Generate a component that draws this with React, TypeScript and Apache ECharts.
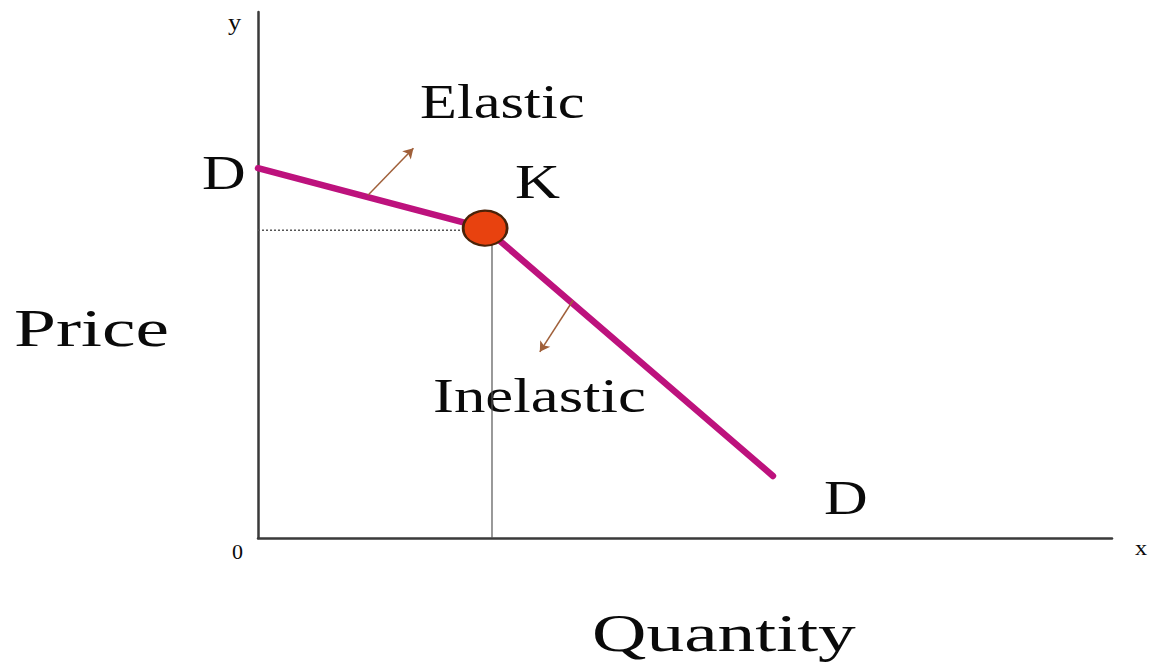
import React, { useEffect, useRef } from "react";
import * as echarts from "echarts";

const demandCurve: [number, number][] = [[0, 70.3], [26.6, 58.9], [60.3, 11.8]];
const kinkPoint: [number, number][] = [[26.6, 58.9]];
const priceGuide: [number, number][] = [[0, 58.5], [24, 58.5]];
const quantityGuide: [number, number][] = [[27.4, 57], [27.4, 0]];
const elasticArrow: [number, number][] = [[12.9, 65.2], [18.2, 74.1]];
const inelasticArrow: [number, number][] = [[36.9, 45.2], [33.0, 35.4]];

const FONT = "Liberation Serif";

function label(text: string, x: number, y: number, size: number, sx: number) {
  return {
    type: "text",
    x,
    y,
    scaleX: sx,
    style: {
      text,
      x: 0,
      y: 0,
      fill: "#0a0a0a",
      font: `${size}px "${FONT}"`,
      align: "left",
      verticalAlign: "middle",
    },
  };
}

export default function App() {
  const ref = useRef<HTMLDivElement>(null);
  useEffect(() => {
    if (!ref.current) return;
    const chart = echarts.init(ref.current, undefined, { renderer: "svg" });
    chart.setOption({
      animation: false,
      backgroundColor: "#ffffff",
      grid: { left: 258, top: 12, right: 45, bottom: 129 },
      xAxis: {
        type: "value",
        min: 0,
        max: 100,
        axisLine: { show: true, lineStyle: { color: "#3a3a3a", width: 2.5 } },
        axisTick: { show: false },
        axisLabel: { show: false },
        splitLine: { show: false },
      },
      yAxis: {
        type: "value",
        min: 0,
        max: 100,
        axisLine: { show: true, lineStyle: { color: "#3a3a3a", width: 2.5 } },
        axisTick: { show: false },
        axisLabel: { show: false },
        splitLine: { show: false },
      },
      series: [
        {
          type: "line",
          data: priceGuide,
          symbol: "none",
          lineStyle: { color: "#555", width: 1.5, type: [2, 2] },
          z: 1,
        },
        {
          type: "line",
          data: quantityGuide,
          symbol: "none",
          lineStyle: { color: "#555", width: 1.2 },
          z: 1,
        },
        {
          type: "line",
          data: demandCurve,
          symbol: "none",
          lineStyle: { color: "#bd127d", width: 6.5, cap: "round", join: "round" },
          z: 3,
          markLine: {
            silent: true,
            symbol: ["none", "arrow"],
            symbolSize: [9, 10],
            label: { show: false },
            lineStyle: { color: "#a0603a", width: 1.5, type: "solid" },
            data: [
              [{ coord: elasticArrow[0] }, { coord: elasticArrow[1] }],
              [{ coord: inelasticArrow[0] }, { coord: inelasticArrow[1] }],
            ],
          },
        },
        {
          type: "scatter",
          data: kinkPoint,
          symbol: "circle",
          symbolSize: [44, 35],
          itemStyle: { color: "#e8420f", borderColor: "#4a2208", borderWidth: 2.5, opacity: 1 },
          z: 5,
        },
      ],
      graphic: [
        label("Elastic", 420, 102, 48, 1.26),
        label("K", 515, 182, 48, 1.3),
        label("D", 202, 173, 48, 1.26),
        label("D", 824, 498, 48, 1.26),
        label("Price", 14, 328, 52, 1.45),
        label("Inelastic", 433, 396, 48, 1.31),
        label("Quantity", 592, 633, 52, 1.45),
        label("y", 228, 22, 24, 1.1),
        label("0", 232, 552, 20, 1.1),
        label("x", 1135, 547, 22, 1.1),
      ],
    });
    return () => chart.dispose();
  }, []);
  return (
    <div
      ref={ref}
      style={{ position: "fixed", left: 0, top: 0, width: 1157, height: 667 }}
    />
  );
}
